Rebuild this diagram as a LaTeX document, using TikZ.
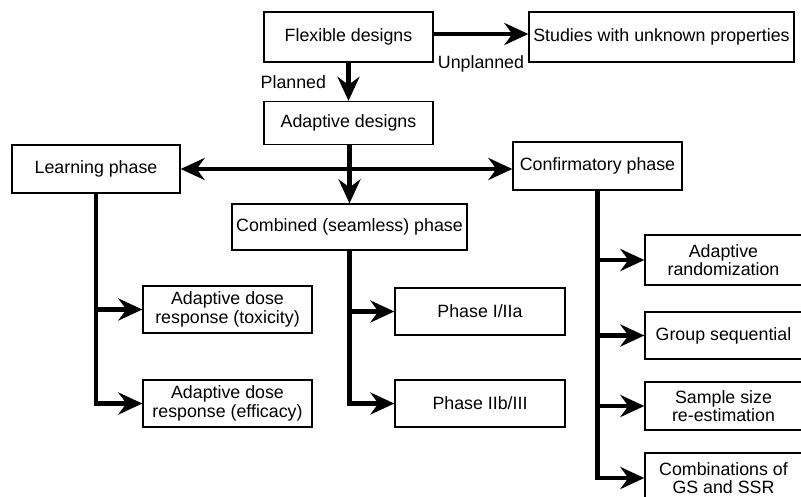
\documentclass[tikz,border=0pt]{standalone}
\usepackage{fontspec}
\setmainfont{Liberation Sans}
\usetikzlibrary{arrows.meta}
\tikzset{
    box/.style={draw, rectangle, line width=1.3pt, align=center, inner sep=2pt, font=\fontsize{17.8}{18.5}\selectfont},
    arrow/.style={line width=4.3pt, -{Stealth[length=24pt, width=22pt, inset=8pt]}},
    dblarrow/.style={line width=4.3pt, {Stealth[length=24pt, width=22pt, inset=8pt]}-{Stealth[length=24pt, width=22pt, inset=8pt]}},
    lbl/.style={font=\fontsize{17.8}{18.5}\selectfont}
}

\begin{document}
\begin{tikzpicture}[x=1pt, y=-1pt]
\useasboundingbox (0,0) rectangle (801,496);
\clip (0,0) rectangle (801,496);
% top
\node[box, minimum width=169pt, minimum height=50pt] (flex) at (348.5,37) {Flexible designs};
\node[box, minimum width=265pt, minimum height=50pt] (stud) at (661.5,37) {Studies with unknown properties};
\node[box, minimum width=169pt, minimum height=43pt] (adapt) at (348.5,123) {Adaptive designs};
% phases
\node[box, minimum width=168pt, minimum height=48pt] (learn) at (96,169) {Learning phase};
\node[box, minimum width=169pt, minimum height=48pt] (conf) at (597.5,166) {Confirmatory phase};
\node[box, minimum width=235pt, minimum height=46pt] (comb) at (349.5,227) {Combined (seamless) phase};
% learning
\node[box, minimum width=169pt, minimum height=47pt] (tox) at (227.5,309.5) {Adaptive dose\\response (toxicity)};
\node[box, minimum width=169pt, minimum height=47pt] (eff) at (227.5,403.5) {Adaptive dose\\response (efficacy)};
% combined
\node[box, minimum width=170pt, minimum height=47pt] (ph1) at (480,311.5) {Phase I/IIa};
\node[box, minimum width=170pt, minimum height=47pt] (ph2) at (480,403.5) {Phase IIb/III};
% confirmatory
\node[box, minimum width=157pt, minimum height=50pt] (rand) at (723.5,260) {Adaptive\\randomization};
\node[box, minimum width=157pt, minimum height=47pt] (gs) at (723.5,335.5) {Group sequential};
\node[box, minimum width=157pt, minimum height=48pt] (ssr) at (723.5,406) {Sample size\\re-estimation};
\node[box, minimum width=157pt, minimum height=50pt] (gsssr) at (723.5,478) {Combinations of\\GS and SSR};

\draw[arrow] ([yshift=3pt]flex.east) -- ([yshift=3pt]flex.east -| stud.west) node[midway, below=16pt, lbl] {Unplanned};
\draw[arrow] (flex.south) -- (adapt.north) node[midway, left=17pt, lbl] {Planned};
\draw[dblarrow] (learn.east) -- (learn.east -| conf.west);
\draw[arrow] (adapt.south -| comb.north) -- (comb.north);

\draw[arrow] (learn.south) |- (eff.west);
\draw[arrow] (learn.south |- tox.west) -- (tox.west);

\draw[arrow] (comb.south) |- (ph2.west);
\draw[arrow] (comb.south |- ph1.west) -- (ph1.west);

\draw[arrow] (conf.south) |- (gsssr.west);
\draw[arrow] (conf.south |- rand.west) -- (rand.west);
\draw[arrow] (conf.south |- gs.west) -- (gs.west);
\draw[arrow] (conf.south |- ssr.west) -- (ssr.west);
\end{tikzpicture}
\end{document}
